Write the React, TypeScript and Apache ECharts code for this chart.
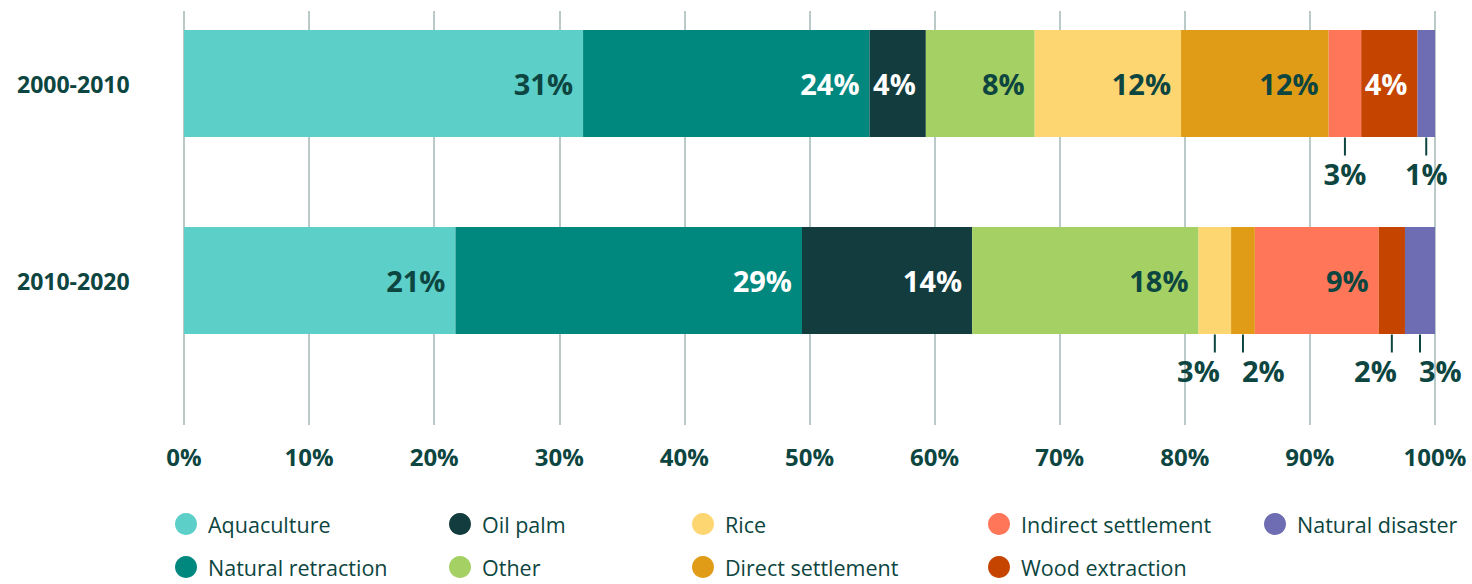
import React, { useEffect, useRef } from "react";
import * as echarts from "echarts";

const categories = ["2000-2010", "2010-2020"];
const seriesNames = [
  "Aquaculture",
  "Natural retraction",
  "Oil palm",
  "Other",
  "Rice",
  "Direct settlement",
  "Indirect settlement",
  "Wood extraction",
  "Natural disaster",
];
// measured segment widths (% of total)
const values2000 = [31.9, 22.9, 4.5, 8.7, 11.7, 11.8, 2.6, 4.5, 1.4];
const values2010 = [21.7, 27.7, 13.6, 18.1, 2.6, 1.9, 9.9, 2.1, 2.4];
// printed labels
const labels2000 = ["31%", "24%", "4%", "8%", "12%", "12%", "3%", "4%", "1%"];
const labels2010 = ["21%", "29%", "14%", "18%", "3%", "2%", "9%", "2%", "3%"];
const xTicks = [0, 10, 20, 30, 40, 50, 60, 70, 80, 90, 100];

const colors = [
  "#5ccfc9",
  "#00877e",
  "#123c3d",
  "#a5d063",
  "#fdd672",
  "#e09c17",
  "#ff7658",
  "#c54400",
  "#6e6cb2",
];
const labelColors = [
  "#0d4540",
  "#ffffff",
  "#ffffff",
  "#0d4540",
  "#0d4540",
  "#0d4540",
  "#0d4540",
  "#ffffff",
  "#0d4540",
];
const DARK = "#0d4540";
const FONT = "'Open Sans', 'Noto Sans', sans-serif";
const SMALL = 3; // segments narrower than this get an outside label
// alignment of outside labels (layout only)
const outsideAlign: Record<string, string>[] = [
  {},
  { "4": "right", "5": "left", "7": "right", "8": "left" },
];

export default function App() {
  const ref = useRef<HTMLDivElement>(null);
  useEffect(() => {
    document.body.style.margin = "0";
    if (!ref.current) return;
    const chart = echarts.init(ref.current, null, { renderer: "svg" });
    const rows = [values2000, values2010];
    const rowLabels = [labels2000, labels2010];

    const barSeries = seriesNames.map((name, i) => ({
      name,
      type: "bar",
      stack: "total",
      xAxisIndex: 1,
      yAxisIndex: 1,
      barWidth: 107,
      itemStyle: { color: colors[i] },
      label: {
        show: true,
        position: "insideRight",
        distance: 10,
        color: labelColors[i],
        fontSize: 29,
        fontWeight: "bold",
        fontFamily: FONT,
        formatter: (p: any) => rowLabels[p.dataIndex][i],
      },
      data: rows.map((r) => ({ value: r[i], label: { show: r[i] >= SMALL } })),
    }));

    const outside: { mid: number; cat: number; text: string; align: string }[] = [];
    rows.forEach((r, ri) => {
      let acc = 0;
      r.forEach((v, si) => {
        if (v < SMALL) {
          outside.push({
            mid: acc + v / 2,
            cat: ri,
            text: rowLabels[ri][si],
            align: outsideAlign[ri][String(si)] || "center",
          });
        }
        acc += v;
      });
    });

    const customSeries = {
      type: "custom",
      xAxisIndex: 1,
      yAxisIndex: 1,
      silent: true,
      data: outside.map((o) => [o.mid, o.cat]),
      renderItem: (params: any, api: any) => {
        const o = outside[params.dataIndex];
        const pt = api.coord([api.value(0), api.value(1)]);
        const x = pt[0];
        const y = pt[1];
        let tx = x;
        if (o.align === "right") tx = x + 5;
        if (o.align === "left") tx = x - 1;
        return {
          type: "group",
          children: [
            {
              type: "line",
              shape: { x1: x, y1: y + 54, x2: x, y2: y + 72 },
              style: { stroke: DARK, lineWidth: 2 },
            },
            {
              type: "text",
              style: {
                text: o.text,
                x: tx,
                y: y + 90,
                align: o.align,
                verticalAlign: "middle",
                fill: DARK,
                fontSize: 29,
                fontWeight: "bold",
                fontFamily: FONT,
              },
            },
          ],
        };
      },
    };

    const legendCols = [
      { left: 175, names: [seriesNames[0], seriesNames[1]] },
      { left: 449, names: [seriesNames[2], seriesNames[3]] },
      { left: 692, names: [seriesNames[4], seriesNames[5]] },
      { left: 988, names: [seriesNames[6], seriesNames[7]] },
      { left: 1264, names: [seriesNames[8]] },
    ];

    chart.setOption({
      animation: false,
      textStyle: { fontFamily: FONT },
      grid: [
        { left: 184, right: 37, top: 11, bottom: 159, outerBoundsMode: "none" },
        { left: 184, right: 37, top: -15, height: 394, outerBoundsMode: "none" },
      ],
      xAxis: [
        {
          type: "value",
          gridIndex: 0,
          min: 0,
          max: 100,
          interval: 10,
          axisLine: { show: false },
          axisTick: { show: false },
          splitLine: { show: true, lineStyle: { color: "#a3b8b7", width: 1.5 } },
          axisLabel: {
            margin: 19,
            fontSize: 24,
            fontWeight: "bold",
            color: DARK,
            fontFamily: FONT,
            formatter: (v: number) => (xTicks.includes(v) ? v + "%" : ""),
          },
        },
        {
          type: "value",
          gridIndex: 1,
          min: 0,
          max: 100,
          show: false,
        },
      ],
      yAxis: [
        { type: "value", gridIndex: 0, show: false },
        {
          type: "category",
          gridIndex: 1,
          inverse: true,
          data: categories,
          axisLine: { show: false },
          axisTick: { show: false },
          splitLine: { show: false },
          axisLabel: {
            align: "left",
            margin: 167,
            fontSize: 23,
            fontWeight: "bold",
            color: DARK,
            fontFamily: FONT,
            padding: [0, 0, 16, 0],
          },
        },
      ],
      legend: legendCols.map((c) => ({
        orient: "vertical",
        left: c.left,
        top: 513,
        padding: 0,
        itemWidth: 22,
        itemHeight: 22,
        itemGap: 21,
        icon: "circle",
        selectedMode: false,
        data: c.names,
        textStyle: {
          fontSize: 21.5,
          color: DARK,
          fontFamily: FONT,
          padding: [0, 0, 0, 6],
        },
      })),
      series: [...barSeries, customSeries],
    });
    return () => chart.dispose();
  }, []);
  return <div ref={ref} style={{ width: 1472, height: 584 }} />;
}
